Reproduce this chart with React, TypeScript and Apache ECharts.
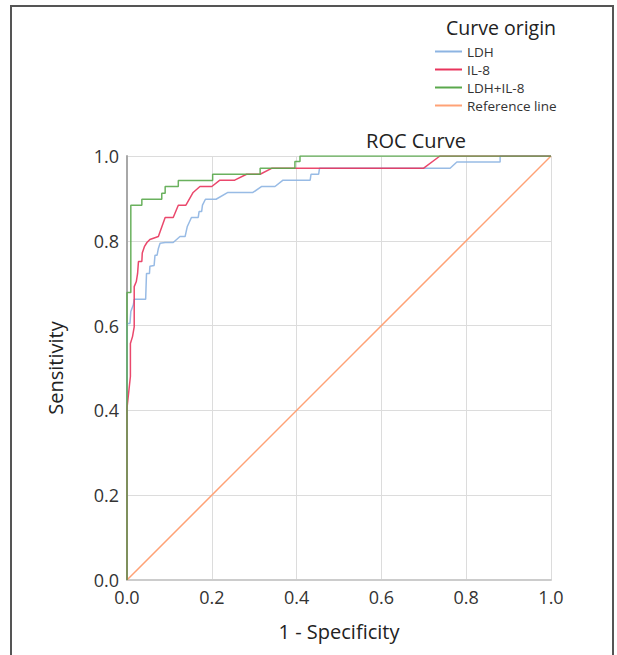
import React, { useEffect, useRef } from "react";
import * as echarts from "echarts";

const seriesNames = ["LDH", "IL-8", "LDH+IL-8", "Reference line"];
const seriesColors = ["#8db4e2", "#e8345c", "#5aa84c", "#ffa276"];

const ldhPoints: [number, number][] = [
  [0, 0], [0, 0.605], [0.007, 0.605], [0.009, 0.633], [0.015, 0.649], [0.017, 0.662],
  [0.044, 0.662], [0.046, 0.723], [0.053, 0.723], [0.054, 0.74], [0.064, 0.742],
  [0.066, 0.766], [0.071, 0.766], [0.074, 0.782], [0.078, 0.794], [0.09, 0.796],
  [0.109, 0.796], [0.125, 0.81], [0.137, 0.81], [0.142, 0.833], [0.152, 0.855],
  [0.168, 0.855], [0.17, 0.869], [0.176, 0.869], [0.178, 0.884], [0.185, 0.898],
  [0.21, 0.898], [0.238, 0.914], [0.297, 0.914], [0.317, 0.928], [0.349, 0.928],
  [0.368, 0.943], [0.432, 0.943], [0.434, 0.957], [0.452, 0.957], [0.454, 0.971],
  [0.762, 0.971], [0.778, 0.986], [0.88, 0.986], [0.88, 1.0], [1, 1],
];

const il8Points: [number, number][] = [
  [0, 0], [0, 0.405], [0.008, 0.48], [0.008, 0.558], [0.013, 0.574], [0.017, 0.597],
  [0.017, 0.692], [0.022, 0.704], [0.025, 0.723], [0.027, 0.751], [0.035, 0.751],
  [0.036, 0.771], [0.041, 0.786], [0.047, 0.796], [0.054, 0.803], [0.074, 0.81],
  [0.09, 0.855], [0.109, 0.855], [0.121, 0.884], [0.139, 0.884], [0.156, 0.914],
  [0.172, 0.928], [0.2, 0.928], [0.219, 0.943], [0.254, 0.943], [0.282, 0.957],
  [0.314, 0.957], [0.341, 0.971], [0.699, 0.971], [0.738, 1.0], [1, 1],
];

const comboPoints: [number, number][] = [
  [0, 0], [0, 0.678], [0.009, 0.678], [0.009, 0.884], [0.035, 0.884], [0.035, 0.898],
  [0.082, 0.898], [0.082, 0.912], [0.09, 0.912], [0.09, 0.928], [0.121, 0.928],
  [0.121, 0.942], [0.202, 0.942], [0.202, 0.957], [0.314, 0.957], [0.314, 0.971],
  [0.396, 0.971], [0.396, 0.987], [0.408, 0.987], [0.408, 1.0], [1, 1],
];

const referencePoints: [number, number][] = [
  [0, 0], [1, 1],
];

const axisTicks = [0, 0.2, 0.4, 0.6, 0.8, 1.0];

const FONT = "'Open Sans', 'Noto Sans', sans-serif";

export default function App() {
  const ref = useRef<HTMLDivElement>(null);
  useEffect(() => {
    if (!ref.current) return;
    const chart = echarts.init(ref.current, undefined, { renderer: "svg" });
    const data = [ldhPoints, il8Points, comboPoints, referencePoints];
    const axisCommon = {
      type: "value" as const,
      min: axisTicks[0],
      max: axisTicks[axisTicks.length - 1],
      interval: 0.2,
      nameLocation: "middle" as const,
      nameTextStyle: { fontFamily: FONT, fontSize: 20, color: "#222" },
      axisTick: { show: false },
      axisLabel: {
        fontFamily: FONT,
        fontSize: 18,
        color: "#333",
        margin: 8,
        formatter: (v: number) => v.toFixed(1),
      },
      splitLine: { show: true, lineStyle: { color: "#dcdcdc", width: 1 } },
    };
    chart.setOption({
      animation: false,
      backgroundColor: "#ffffff",
      title: [
        {
          text: "Curve origin",
          left: 446,
          top: 17,
          padding: 0,
          textStyle: { fontFamily: FONT, fontSize: 19.5, fontWeight: "normal", color: "#222" },
        },
        {
          text: "ROC Curve",
          left: 416,
          top: 130,
          padding: 0,
          textAlign: "center",
          textStyle: { fontFamily: FONT, fontSize: 20, fontWeight: "normal", color: "#222" },
        },
      ],
      legend: {
        orient: "vertical",
        left: 435,
        top: 44,
        padding: 0,
        icon: "rect",
        itemWidth: 27,
        itemHeight: 2,
        itemGap: 3,
        data: seriesNames,
        textStyle: { fontFamily: FONT, fontSize: 13.5, color: "#333", lineHeight: 15 },
      },
      grid: { left: 127, right: 66, top: 156, bottom: 75, containLabel: false },
      xAxis: {
        ...axisCommon,
        name: "1 - Specificity",
        nameGap: 41,
        axisLine: { show: true, lineStyle: { color: "#cccccc", width: 2 } },
      },
      yAxis: {
        ...axisCommon,
        name: "Sensitivity",
        nameGap: 62,
        axisLine: { show: true, lineStyle: { color: "#a8a8a8", width: 2 } },
      },
      graphic: [
        {
          type: "rect",
          shape: { x: 11, y: 6, width: 602, height: 670 },
          style: { fill: "none", stroke: "#555", lineWidth: 2 },
          silent: true,
        },
      ],
      series: seriesNames.map((name, i) => ({
        name,
        type: "line",
        data: data[i],
        showSymbol: false,
        symbol: "none",
        color: seriesColors[i],
        lineStyle: { color: seriesColors[i], width: 1.5, opacity: i === 3 ? 1 : 0.9 },
        z: i === 3 ? 1 : 2 + i,
      })),
    });
    return () => chart.dispose();
  }, []);
  return (
    <div
      ref={ref}
      style={{ position: "fixed", left: 0, top: 0, width: 617, height: 655 }}
    />
  );
}
